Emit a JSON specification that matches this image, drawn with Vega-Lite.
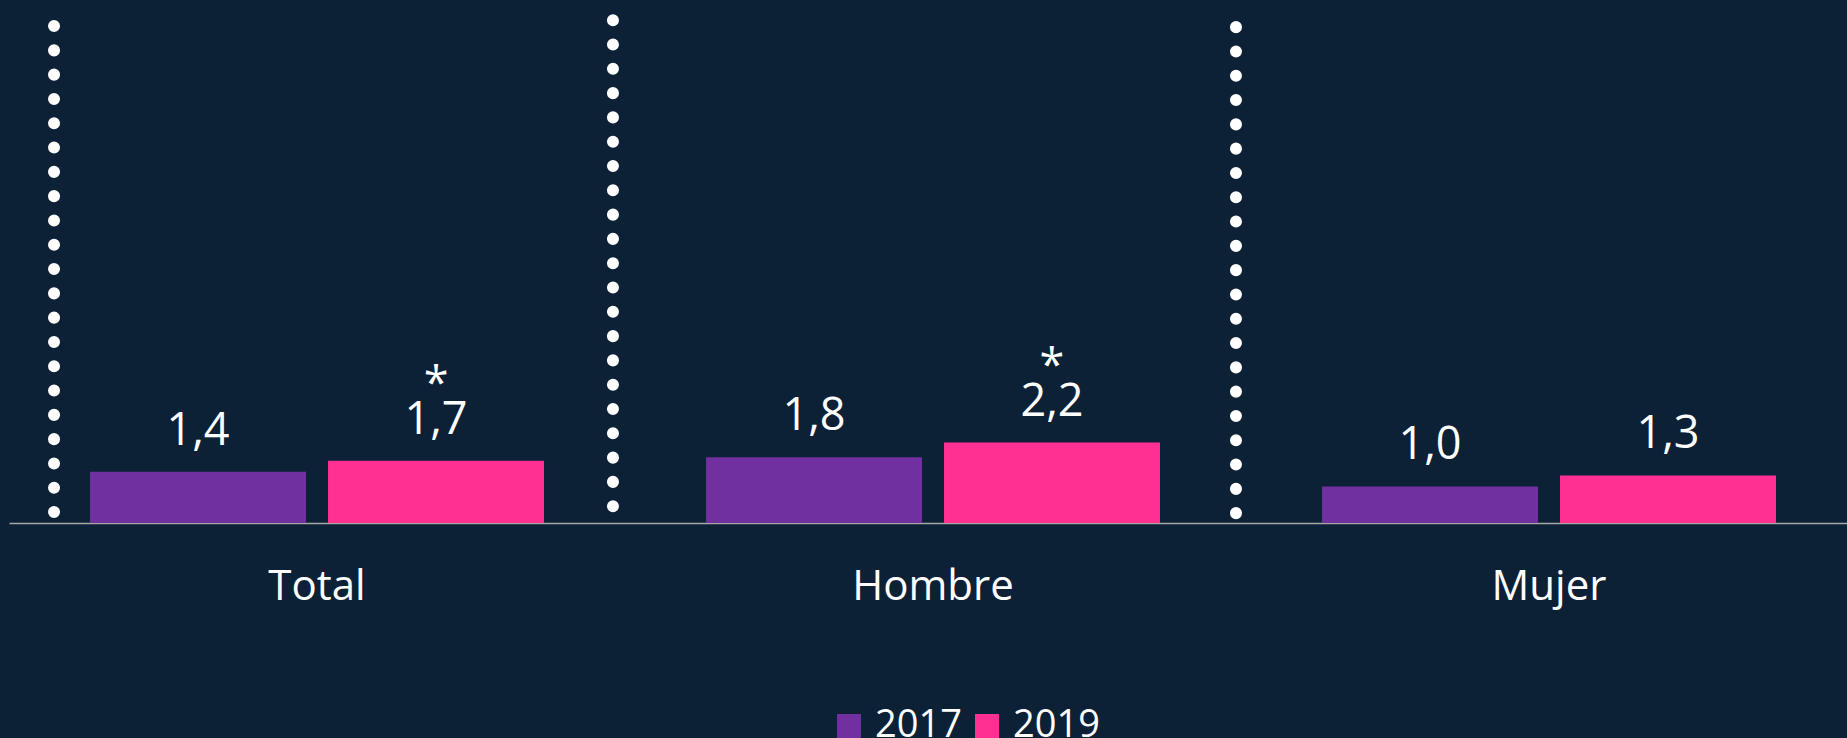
{
  "$schema": "https://vega.github.io/schema/vega-lite/v6.json",
  "autosize": {"type": "none"},
  "width": 1838,
  "height": 512,
  "padding": {"left": 9, "top": 11, "right": 0, "bottom": 215},
  "background": "#0C2036",
  "config": {
    "view": {"stroke": null},
    "font": "Open Sans",
    "locale": {"number": {"decimal": ",", "thousands": ".", "grouping": [3], "currency": ["", " €"]}}
  },
  "datasets": {
    "barras": [
      {"grupo": "Total", "anio": "2017", "valor": 1.4, "sig": ""},
      {"grupo": "Total", "anio": "2019", "valor": 1.7, "sig": "*"},
      {"grupo": "Hombre", "anio": "2017", "valor": 1.8, "sig": ""},
      {"grupo": "Hombre", "anio": "2019", "valor": 2.2, "sig": "*"},
      {"grupo": "Mujer", "anio": "2017", "valor": 1.0, "sig": ""},
      {"grupo": "Mujer", "anio": "2019", "valor": 1.3, "sig": ""}
    ],
    "divisores": [
      {"pos": 0.0735, "desde": 13.59, "hasta": 0.26},
      {"pos": 0.9858, "desde": 13.75, "hasta": 0.42},
      {"pos": 2.0027, "desde": 13.56, "hasta": 0.18}
    ]
  },
  "layer": [
    {
      "data": {"name": "barras"},
      "encoding": {
        "x": {
          "field": "grupo", "type": "nominal", "sort": ["Total", "Hombre", "Mujer"],
          "scale": {"paddingInner": 0.263, "paddingOuter": 0.1234, "align": 0.533},
          "axis": {
            "title": null, "labelAngle": 0, "ticks": false, "tickSize": 0,
            "labelPadding": 43, "labelFontSize": 42, "labelColor": "#FFFFFF",
            "labelFont": "Open Sans", "domainColor": "#A6A6A6", "domainWidth": 1.5
          }
        },
        "xOffset": {"field": "anio", "type": "nominal", "scale": {"paddingInner": 0.0924, "paddingOuter": 0}},
        "y": {"field": "valor", "type": "quantitative", "scale": {"domain": [0, 14]}, "axis": null}
      },
      "layer": [
        {
          "mark": {"type": "bar"},
          "encoding": {
            "color": {
              "field": "anio", "type": "nominal",
              "scale": {"domain": ["2017", "2019"], "range": ["#7030A0", "#FF3090"]},
              "legend": {
                "title": null, "orient": "none", "direction": "horizontal",
                "legendX": 821, "legendY": 696, "padding": 0,
                "symbolType": "square", "symbolSize": 576, "symbolStrokeWidth": 0,
                "symbolOpacity": 1,
                "labelFontSize": 38, "labelFont": "Open Sans", "labelColor": "#FFFFFF",
                "labelOffset": 7, "columnPadding": 6
              }
            }
          }
        },
        {
          "mark": {"type": "text", "baseline": "alphabetic", "dy": -27, "fontSize": 45, "color": "#FFFFFF", "font": "Open Sans"},
          "encoding": {"text": {"field": "valor", "type": "quantitative", "format": ".1f"}}
        },
        {
          "mark": {"type": "text", "baseline": "alphabetic", "dy": -62, "fontSize": 45, "color": "#FFFFFF", "font": "Open Sans"},
          "encoding": {"text": {"field": "sig", "type": "nominal"}}
        }
      ]
    },
    {
      "data": {"name": "divisores"},
      "mark": {"type": "rule", "color": "#FFFFFF", "strokeWidth": 12, "strokeCap": "round", "strokeDash": [0.1, 24.2]},
      "encoding": {
        "x": {"field": "pos", "type": "quantitative", "scale": {"domain": [0, 3]}, "axis": null},
        "y": {"field": "desde", "type": "quantitative", "scale": {"domain": [0, 14]}, "axis": null},
        "y2": {"field": "hasta"}
      }
    }
  ],
  "resolve": {"scale": {"x": "independent"}}
}
